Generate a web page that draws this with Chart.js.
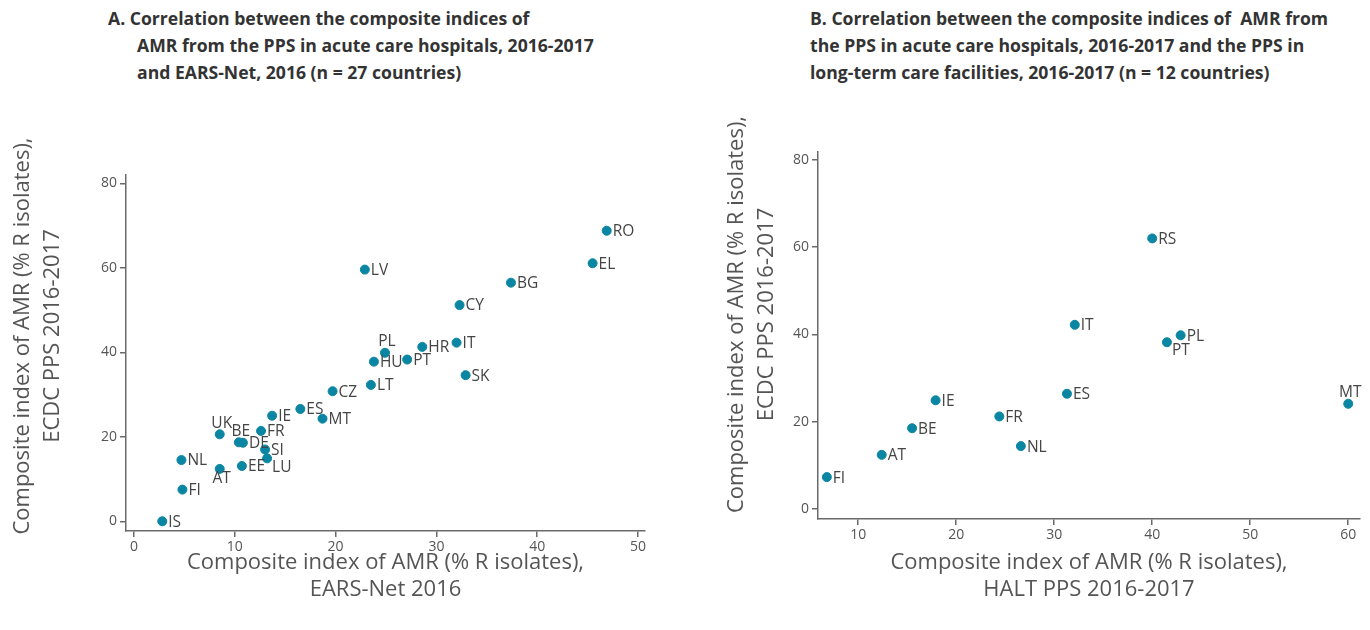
<!DOCTYPE html>
<html>
<head>
<meta charset="utf-8">
<script src="https://cdn.jsdelivr.net/npm/chart.js@4.4.1/dist/chart.umd.min.js"></script>
<style>
  html, body { margin: 0; padding: 0; background: #fff; }
  body { width: 1370px; height: 630px; position: relative; overflow: hidden; font-family: "Open Sans", sans-serif; }
  .ttl { position: absolute; top: 5px; font-weight: bold; font-size: 17.6px; line-height: 27px; color: #333; white-space: pre; }
  .ind { padding-left: 29px; }
  .panel { position: absolute; top: 0; width: 685px; height: 630px; }
</style>
</head>
<body>
<div class="ttl" style="left:108px">A. Correlation between the composite indices of
<span class="ind">AMR from the PPS in acute care hospitals, 2016-2017</span>
<span class="ind">and EARS-Net, 2016 (n = 27 countries)</span></div>
<div class="ttl" style="left:810px">B. Correlation between the composite indices of  AMR from
the PPS in acute care hospitals, 2016-2017 and the PPS in
long-term care facilities, 2016-2017 (n = 12 countries)</div>

<div class="panel" style="left:0"><canvas id="chartA" width="685" height="630"></canvas></div>
<div class="panel" style="left:685px"><canvas id="chartB" width="685" height="630"></canvas></div>

<script>
// --- data, panel A (EARS-Net vs ECDC PPS) ---
const countriesA = ['RO','EL','BG','CY','LV','IT','HR','PL','HU','PT','SK','LT','CZ','ES','MT',
                    'IE','FR','UK','BE','DE','SI','LU','EE','NL','AT','FI','IS'];
const earsNet  = [46.9,45.5,37.4,32.3,22.9,32.0,28.6,24.9,23.8,27.1,32.9,23.5,19.7,16.5,18.7,
                  13.7,12.6,8.5,10.4,10.8,13.0,13.2,10.7,4.7,8.5,4.8,2.8];
const ecdcPpsA = [68.8,61.1,56.5,51.2,59.6,42.3,41.3,39.9,37.8,38.3,34.6,32.3,30.8,26.6,24.3,
                  25.0,21.4,20.6,18.7,18.6,17.0,14.9,13.1,14.5,12.4,7.5,0.0];
const xTicksA = [0, 10, 20, 30, 40, 50];
const yTicksA = [0, 20, 40, 60, 80];

// --- data, panel B (HALT PPS vs ECDC PPS) ---
const countriesB = ['FI','AT','BE','IE','FR','NL','ES','IT','RS','PT','PL','MT'];
const haltPps  = [6.8,12.4,15.5,17.9,24.4,26.6,31.3,32.1,40.0,41.5,42.9,60.0];
const ecdcPpsB = [7.3,12.4,18.5,24.9,21.2,14.4,26.4,42.2,62.0,38.2,39.8,24.1];
const xTicksB = [10, 20, 30, 40, 50, 60];
const yTicksB = [0, 20, 40, 60, 80];

const yTitle = ['Composite index of AMR (% R isolates),', 'ECDC PPS 2016-2017'];
const POINT = '#0a86a3';
const AXIS = '#6a6a6a';
const TXT = '#555';
const FONT = '"Open Sans"';

// where a label sits if not right of its dot
const placeA = { PL: 'above', UK: 'above', BE: 'above', AT: 'below', LU: 'belowRight' };
const placeB = { PT: 'belowRight', MT: 'above' };

function labelPlugin(names, place) {
    return {
        id: 'pointLabels',
        afterDatasetsDraw(chart) {
            const ctx = chart.ctx;
            const meta = chart.getDatasetMeta(0);
            ctx.save();
            ctx.font = '15.5px ' + FONT;
            ctx.fillStyle = '#444';
            meta.data.forEach((pt, i) => {
                const name = names[i];
                const pos = place[name] || 'right';
                let x = pt.x, y = pt.y;
                if (pos === 'above') {
                    ctx.textAlign = 'center'; ctx.textBaseline = 'bottom'; x += 2; y -= 3;
                } else if (pos === 'below') {
                    ctx.textAlign = 'center'; ctx.textBaseline = 'top'; x += 2; y += 2;
                } else if (pos === 'belowRight') {
                    ctx.textAlign = 'left'; ctx.textBaseline = 'top'; x += 5; y += 1;
                } else {
                    ctx.textAlign = 'left'; ctx.textBaseline = 'middle'; x += 6; y += 1;
                }
                ctx.fillText(name, x, y);
            });
            ctx.restore();
        }
    };
}

// rotated y title, a bit above the middle of the plot like the original
function yTitlePlugin(lines, x0, shift) {
    return {
        id: 'yTitle',
        afterDraw(chart) {
            const { ctx, chartArea } = chart;
            const cy = (chartArea.top + chartArea.bottom) / 2 + shift;
            ctx.save();
            ctx.font = '22px ' + FONT;
            ctx.fillStyle = TXT;
            ctx.textAlign = 'center';
            ctx.textBaseline = 'middle';
            lines.forEach((t, i) => {
                ctx.save();
                ctx.translate(x0 + i * 30, cy);
                ctx.rotate(-Math.PI / 2);
                ctx.fillText(t, 0, 0);
                ctx.restore();
            });
            ctx.restore();
        }
    };
}

function makeChart(id, names, xs, ys, cfg) {
    const pts = xs.map((x, i) => ({ x: x, y: ys[i] }));
    return new Chart(document.getElementById(id), {
        type: 'scatter',
        data: {
            datasets: [{
                data: pts,
                backgroundColor: POINT,
                borderColor: POINT,
                pointRadius: 4.5,
                pointHoverRadius: 4.5
            }]
        },
        options: {
            responsive: false,
            animation: false,
            layout: { padding: { top: cfg.top, right: cfg.right, left: 0, bottom: 0 } },
            plugins: { legend: { display: false }, tooltip: { enabled: false } },
            scales: {
                x: {
                    type: 'linear',
                    min: cfg.xMin, max: cfg.xMax,
                    afterBuildTicks: s => { s.ticks = cfg.xTicks.map(v => ({ value: v })); },
                    afterFit: s => { s.height = cfg.xH; },
                    border: { display: true, color: AXIS, width: 1.5 },
                    grid: { drawOnChartArea: false, drawTicks: true, tickLength: 6, color: AXIS, lineWidth: 1.5 },
                    ticks: { color: TXT, font: { family: FONT, size: 14 }, padding: 2 },
                    title: {
                        display: true,
                        text: ['Composite index of AMR (% R isolates),', cfg.xTitle2],
                        color: TXT,
                        font: { family: FONT, size: 22, lineHeight: 27 / 22 },
                        padding: { top: 0, bottom: 26.5 }
                    }
                },
                y: {
                    type: 'linear',
                    min: cfg.yMin, max: cfg.yMax,
                    afterBuildTicks: s => { s.ticks = cfg.yTicks.map(v => ({ value: v })); },
                    afterFit: s => { s.width = cfg.yW; },
                    border: { display: true, color: AXIS, width: 1.5 },
                    grid: { drawOnChartArea: false, drawTicks: true, tickLength: 6, color: AXIS, lineWidth: 1.5 },
                    ticks: { color: TXT, font: { family: FONT, size: 14 }, padding: 3 }
                }
            }
        },
        plugins: [labelPlugin(names, cfg.place), yTitlePlugin(yTitle, cfg.titleX, cfg.titleShift)]
    });
}

document.addEventListener('DOMContentLoaded', () => {
    makeChart('chartA', countriesA, earsNet, ecdcPpsA, {
        top: 175, right: 40, xH: 99, yW: 126,
        xMin: -0.8, xMax: 50.7, yMin: -2.3, yMax: 82,
        xTicks: xTicksA, yTicks: yTicksA,
        xTitle2: 'EARS-Net 2016', place: placeA,
        titleX: 23, titleShift: -17
    });
    makeChart('chartB', countriesB, haltPps, ecdcPpsB, {
        top: 152, right: 10, xH: 111, yW: 133,
        xMin: 5.9, xMax: 61.2, yMin: -2.3, yMax: 81.8,
        xTicks: xTicksB, yTicks: yTicksB,
        xTitle2: 'HALT PPS 2016-2017', place: placeB,
        titleX: 52, titleShift: -21
    });
});
</script>
</body>
</html>
